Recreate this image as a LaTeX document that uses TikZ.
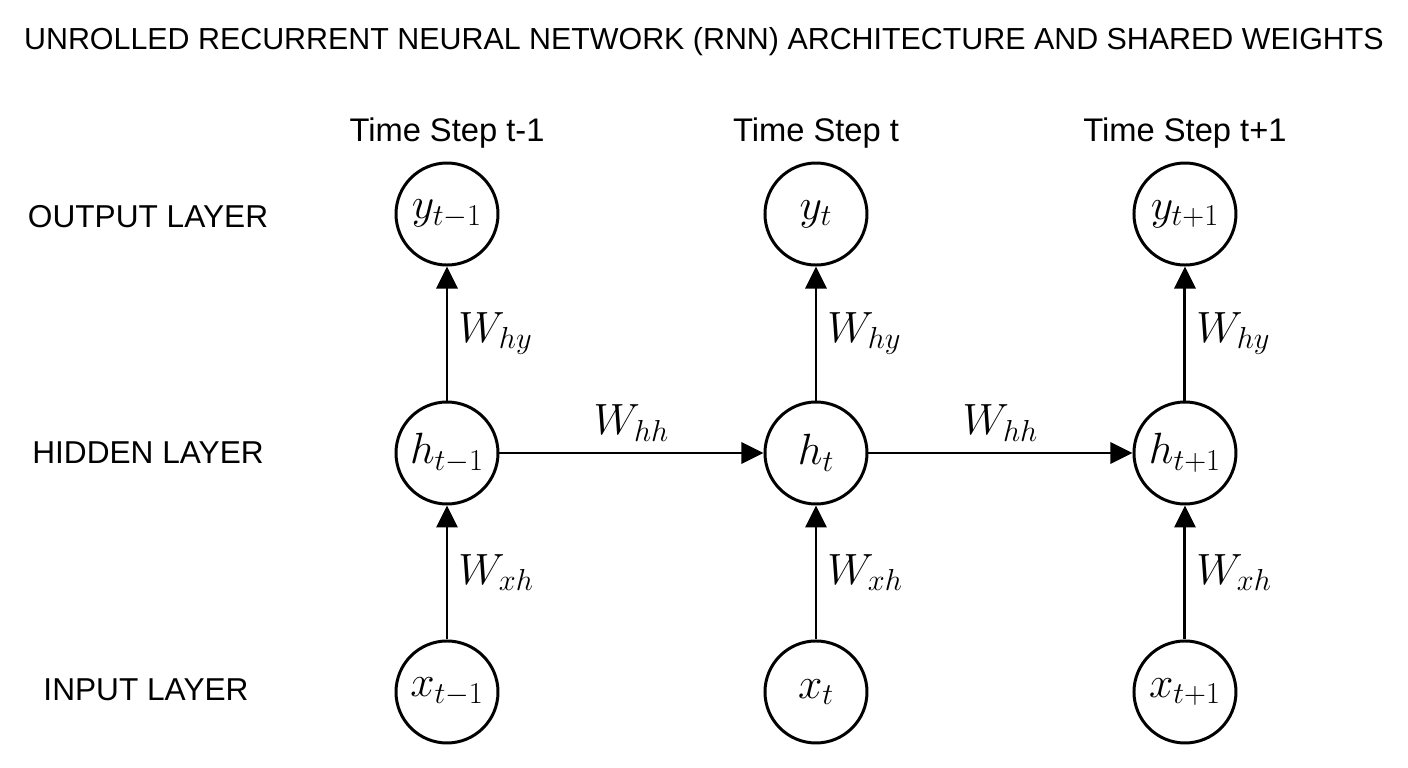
\documentclass[tikz,border=0pt]{standalone}
\usepackage{amsmath}
\usepackage{fontspec}
\setmainfont{Liberation Sans}
\usepackage{tikz}
\usetikzlibrary{arrows.meta,positioning}

\begin{document}
\begin{tikzpicture}[
      font=\fontsize{18.6}{22}\selectfont,
      node distance=26.8mm and 52.8mm,
      unit/.style={draw,circle,line width=1.7pt,minimum size=20.4mm,inner sep=0pt,font=\fontsize{25}{29}\selectfont},
      arrow/.style={-{Triangle[length=4.4mm,width=4.2mm]},line width=1.7pt},
      wlabel/.style={font=\fontsize{25}{29}\selectfont,inner sep=2mm},
      layer/.style={align=center,font=\fontsize{18}{21}\selectfont},
      title/.style={font=\fontsize{17.3}{20}\selectfont}
    ]
    \useasboundingbox (0,0) rectangle (28.16,-15.36);
    \node[title] (head) at (14.08,-0.84) {UNROLLED RECURRENT NEURAL NETWORK (RNN) ARCHITECTURE AND SHARED WEIGHTS};
    % hidden row
    \node[unit] (h1) at (8.94,-9.06) {$h_{t-1}$};
    \node[unit,right=of h1] (h2) {$h_t$};
    \node[unit,right=of h2] (h3) {$h_{t+1}$};
    % output and input rows
    \node[unit,above=of h1] (y1) {$y_{t-1}$};
    \node[unit,above=of h2] (y2) {$y_t$};
    \node[unit,above=of h3] (y3) {$y_{t+1}$};
    \node[unit,below=of h1] (x1) {$x_{t-1}$};
    \node[unit,below=of h2] (x2) {$x_t$};
    \node[unit,below=of h3] (x3) {$x_{t+1}$};
    % column and row labels
    \node[above=1.5mm of y1] (ts1) {Time Step t-1};
    \node[above=1.5mm of y2] (ts2) {Time Step t};
    \node[above=1.5mm of y3] (ts3) {Time Step t+1};
    \node[layer] (lout) at (2.96,-4.34) {OUTPUT LAYER};
    \node[layer] (lhid) at (2.96,-9.06) {HIDDEN LAYER};
    \node[layer] (lin) at (2.92,-13.8) {INPUT LAYER};
    % connections
    \draw[arrow] (x1) -- node[wlabel,right] {$W_{xh}$} (h1);
    \draw[arrow] (x2) -- node[wlabel,right] {$W_{xh}$} (h2);
    \draw[arrow] (x3) -- node[wlabel,right] {$W_{xh}$} (h3);
    \draw[arrow] (h1) -- node[wlabel,right] {$W_{hy}$} (y1);
    \draw[arrow] (h2) -- node[wlabel,right] {$W_{hy}$} (y2);
    \draw[arrow] (h3) -- node[wlabel,right] {$W_{hy}$} (y3);
    \draw[arrow] (h1) -- node[wlabel,above] {$W_{hh}$} (h2);
    \draw[arrow] (h2) -- node[wlabel,above] {$W_{hh}$} (h3);
  \end{tikzpicture}
\end{document}
